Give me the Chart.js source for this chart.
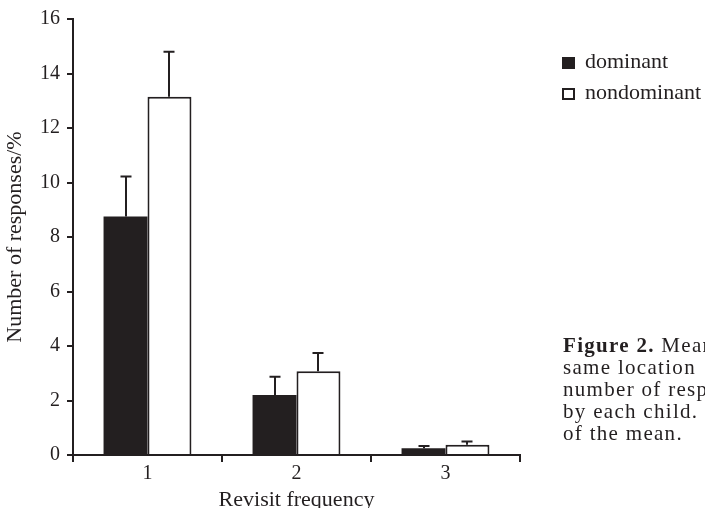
<!DOCTYPE html>
<html>
<head>
<meta charset="utf-8">
<script src="https://cdn.jsdelivr.net/npm/chart.js@4"></script>
<style>
  html, body { margin: 0; padding: 0; background: #fff; overflow: hidden; }
  #wrap { position: relative; width: 705px; height: 508px; overflow: hidden; }
  #caption {
    position: absolute; left: 563px; top: 334px;
    font-family: "Liberation Serif", serif; font-size: 21px; line-height: 22px;
    letter-spacing: 1.3px; color: #231f20; white-space: nowrap;
  }
</style>
</head>
<body>
<div id="wrap">
  <canvas id="mycanvas" width="705" height="508"></canvas>
  <div id="caption">
    <div><b>Figure 2.</b> Mean</div>
    <div>same location</div>
    <div>number of responses</div>
    <div>by each child.</div>
    <div>of the mean.</div>
  </div>
</div>
<script>
var categories = ["1", "2", "3"];
var dominant = [8.75, 2.2, 0.25];
var dominantSE = [1.47, 0.67, 0.08];
var nondominant = [13.15, 3.07, 0.38];
var nondominantSE = [1.65, 0.67, 0.12];

var ink = "#231f20";
var serif = "'Liberation Serif', 'Times New Roman', serif";

// upper error bars only
var errorBars = {
    id: "errorBars",
    afterDatasetsDraw: function(chart) {
        var ctx = chart.ctx;
        var yScale = chart.scales.y;
        ctx.save();
        ctx.strokeStyle = ink;
        ctx.lineWidth = 2;
        chart.data.datasets.forEach(function(ds, i) {
            var meta = chart.getDatasetMeta(i);
            meta.data.forEach(function(bar, j) {
                var top = yScale.getPixelForValue(ds.data[j] + ds.se[j]);
                var x = Math.round(bar.x);
                ctx.beginPath();
                ctx.moveTo(x, bar.y);
                ctx.lineTo(x, top);
                ctx.moveTo(x - 5.5, top);
                ctx.lineTo(x + 5.5, top);
                ctx.stroke();
            });
        });
        ctx.restore();
    }
};

var sideLegend = {
    id: "sideLegend",
    afterDraw: function(chart) {
        var ctx = chart.ctx;
        ctx.save();
        ctx.font = "22px " + serif;
        ctx.textBaseline = "middle";
        chart.data.datasets.forEach(function(ds, i) {
            var y = 57 + i * 31;
            ctx.fillStyle = ds.backgroundColor;
            ctx.fillRect(562, y, 13, 12);
            ctx.strokeStyle = ink;
            ctx.lineWidth = 2;
            ctx.strokeRect(563, y + 1, 11, 10);
            ctx.fillStyle = ink;
            ctx.fillText(ds.label, 585, y + 5);
        });
        ctx.restore();
    }
};

var chartdata = {
    labels: categories,
    datasets: [
        {
            label: "dominant",
            data: dominant,
            se: dominantSE,
            backgroundColor: ink,
            borderColor: ink,
            borderWidth: 0
        },
        {
            label: "nondominant",
            data: nondominant,
            se: nondominantSE,
            backgroundColor: "#ffffff",
            borderColor: ink,
            borderWidth: 2
        }
    ]
};

var ctx = document.getElementById("mycanvas");

var BarGraph = new Chart(ctx, {
    type: "bar",
    data: chartdata,
    options: {
        responsive: false,
        animation: false,
        devicePixelRatio: 1,
        layout: { padding: { top: 19, right: 185, bottom: 0, left: 0 } },
        datasets: { bar: { categoryPercentage: 0.59, barPercentage: 1 } },
        plugins: { legend: { display: false }, tooltip: { enabled: false } },
        scales: {
            x: {
                grid: { offset: true, drawOnChartArea: false, tickLength: 7, color: ink, lineWidth: 2 },
                border: { color: ink, width: 2 },
                ticks: { color: ink, padding: 0, font: { family: serif, size: 20 } },
                title: {
                    display: true, text: "Revisit frequency", color: ink,
                    font: { family: serif, size: 22, lineHeight: 1 },
                    padding: { top: 0, bottom: -3 }
                },
                afterFit: function(scale) { scale.height = 53; }
            },
            y: {
                min: 0, max: 16,
                grid: { drawOnChartArea: false, tickLength: 6, color: ink, lineWidth: 2 },
                border: { color: ink, width: 2 },
                ticks: { stepSize: 2, color: ink, padding: 7, font: { family: serif, size: 20 } },
                title: {
                    display: true, text: "Number of responses/%", color: ink,
                    font: { family: serif, size: 22, lineHeight: 1.2 },
                    padding: { top: 2, bottom: 0 }
                },
                afterFit: function(scale) { scale.width = 73; }
            }
        }
    },
    plugins: [errorBars, sideLegend]
});
</script>
</body>
</html>
